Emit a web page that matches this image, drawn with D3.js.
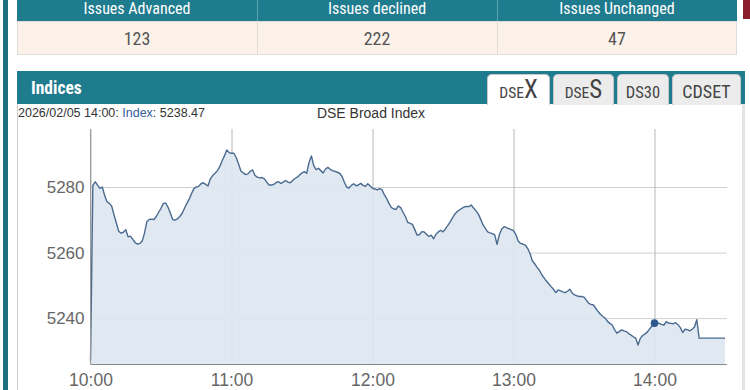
<!DOCTYPE html>
<html><head><meta charset="utf-8">
<script src="https://cdnjs.cloudflare.com/ajax/libs/d3/7.8.5/d3.min.js"></script>
<style>
html,body{margin:0;padding:0;background:#fff;overflow:hidden}
svg{display:block}
</style></head>
<body>
<svg id="c" width="750" height="390"></svg>
<script>
// ---------- data ----------
const breadthHeaders = ["Issues Advanced", "Issues declined", "Issues Unchanged"];
const breadthValues = ["123", "222", "47"];
const tabLabels = [["DSE","X"],["DSE","S"],["DS30",""],["CDSET",""]];
const chartTitle = "DSE Broad Index";
const infoDate = "2026/02/05 14:00";
const infoValue = "5238.47";
const yTicks = [5240, 5260, 5280];
const xTicks = ["10:00", "11:00", "12:00", "13:00", "14:00"];
const markerTime = "14:00";
const markerValue = 5238.47;

const times = [
"10:00","10:01","10:02","10:03","10:04","10:05","10:06","10:07","10:08","10:09",
"10:10","10:11","10:12","10:13","10:14","10:15","10:16","10:17","10:18","10:19",
"10:20","10:21","10:22","10:23","10:24","10:25","10:26","10:27","10:28","10:29",
"10:30","10:31","10:32","10:33","10:34","10:35","10:36","10:37","10:38","10:39",
"10:40","10:41","10:42","10:43","10:44","10:45","10:46","10:47","10:48","10:49",
"10:50","10:51","10:52","10:53","10:54","10:55","10:56","10:57","10:58","10:59",
"11:00","11:01","11:02","11:03","11:04","11:05","11:06","11:07","11:08","11:09",
"11:10","11:11","11:12","11:13","11:14","11:15","11:16","11:17","11:18","11:19",
"11:20","11:21","11:22","11:23","11:24","11:25","11:26","11:27","11:28","11:29",
"11:30","11:31","11:32","11:33","11:34","11:35","11:36","11:37","11:38","11:39",
"11:40","11:41","11:42","11:43","11:44","11:45","11:46","11:47","11:48","11:49",
"11:50","11:51","11:52","11:53","11:54","11:55","11:56","11:57","11:58","11:59",
"12:00","12:01","12:02","12:03","12:04","12:05","12:06","12:07","12:08","12:09",
"12:10","12:11","12:12","12:13","12:14","12:15","12:16","12:17","12:18","12:19",
"12:20","12:21","12:22","12:23","12:24","12:25","12:26","12:27","12:28","12:29",
"12:30","12:31","12:32","12:33","12:34","12:35","12:36","12:37","12:38","12:39",
"12:40","12:41","12:42","12:43","12:44","12:45","12:46","12:47","12:48","12:49",
"12:50","12:51","12:52","12:53","12:54","12:55","12:56","12:57","12:58","12:59",
"13:00","13:01","13:02","13:03","13:04","13:05","13:06","13:07","13:08","13:09",
"13:10","13:11","13:12","13:13","13:14","13:15","13:16","13:17","13:18","13:19",
"13:20","13:21","13:22","13:23","13:24","13:25","13:26","13:27","13:28","13:29",
"13:30","13:31","13:32","13:33","13:34","13:35","13:36","13:37","13:38","13:39",
"13:40","13:41","13:42","13:43","13:44","13:45","13:46","13:47","13:48","13:49",
"13:50","13:51","13:52","13:53","13:54","13:55","13:56","13:57","13:58","13:59",
"14:00","14:01","14:02","14:03","14:04","14:05","14:06","14:07","14:08","14:09",
"14:10","14:11","14:12","14:13","14:14","14:15","14:16","14:17","14:18","14:19",
"14:30"
];
const values = [
5227,5280.5,5281.6,5280.6,5279.6,5280,5277.5,5275.5,5275,5274.2,
5271.5,5269,5266.5,5265.9,5266.2,5267,5264.8,5265,5264,5263,
5262.6,5262.8,5263.5,5266,5269.5,5270.1,5270.2,5270.1,5271,5272.3,
5273.5,5275,5275.1,5273.8,5272,5270.1,5269.9,5270.3,5271,5272,
5273.5,5275,5276.3,5278,5279.5,5280,5280.2,5281,5281.3,5280.8,
5280.3,5282.5,5283.5,5284.2,5285,5286.2,5288,5289.5,5291.3,5290.5,
5290.3,5290.3,5289,5287,5284.9,5284.3,5283.8,5284,5284.8,5285.2,
5283.5,5283,5282.8,5282.9,5282.5,5281.5,5280.6,5280.6,5280.8,5281.4,
5281.6,5281.1,5281.5,5282,5281.5,5281.3,5282,5282.6,5283,5283.7,
5284.3,5284.7,5284.2,5287.5,5289.5,5286.5,5285.3,5285.7,5285,5284.3,
5285.5,5286,5285.4,5285,5284.8,5284.5,5284.2,5283.3,5281.5,5280,
5279.7,5280.5,5281,5280.4,5280.6,5281.1,5280.5,5280.2,5281,5280.3,
5279.6,5279.4,5279.1,5279.5,5279.2,5277.7,5276.5,5275,5273.8,5273.3,
5273.2,5274.2,5273.7,5272.3,5271,5269.2,5268.9,5268.6,5267,5265.3,
5265.5,5266.4,5266.3,5265.6,5264.9,5265.3,5264.2,5265.6,5266.3,5266.8,
5266.3,5267.2,5268.2,5269.3,5270.5,5271.7,5272.5,5273,5273.5,5273.9,
5274.1,5274,5274.5,5273.6,5272.8,5271.8,5270.2,5268.5,5267.4,5266.3,
5266,5265.8,5265.4,5262.5,5265.5,5267.2,5267.9,5267.6,5267.3,5267,
5266.7,5265.5,5263.5,5262.8,5262.6,5262.3,5261.3,5259.8,5257.5,5256.6,
5255.5,5254.6,5253.3,5252.3,5251.3,5250.5,5249.6,5248.8,5247.8,5248.6,
5248.3,5248,5247.8,5248.2,5248.8,5247.6,5247.1,5246.8,5246.6,5246.6,
5246.4,5245.5,5244.5,5244.2,5244,5243,5242,5241.2,5240.5,5240,
5239,5238.4,5237.9,5236.5,5235.4,5235.9,5236.4,5236.1,5235.9,5235.3,
5234.8,5234.3,5233.9,5231.8,5233.9,5234.7,5235.2,5235.8,5236.8,5237.6,
5238.47,5238.7,5238.4,5238.1,5237.9,5238.9,5238.5,5238.4,5238.3,5238.6,
5238,5237.1,5235.6,5236.6,5236.5,5236.1,5236.6,5237.3,5239.5,5233.9,
5233.9
];

// ---------- drawing ----------
const svg = d3.select("#c");
const teal = "#1f7b8e";
const condensed = "'Liberation Sans Narrow','Roboto Condensed','Liberation Sans',Arial,sans-serif";
const sans = "'Liberation Sans',Arial,sans-serif";

// left page bar
svg.append("rect").attr("x",3).attr("y",0).attr("width",5).attr("height",390).attr("fill","#1d6f7f");
// dark red block top right
svg.append("rect").attr("x",743).attr("y",0).attr("width",7).attr("height",19).attr("fill","#8a1c2c");

// breadth table
const colX = d3.scaleBand().domain(breadthHeaders).range([17, 737]);
svg.append("rect").attr("x",17).attr("y",0).attr("width",720).attr("height",21).attr("fill",teal);
svg.append("rect").attr("x",17.5).attr("y",21.5).attr("width",719).attr("height",33).attr("fill","#fdf2ea").attr("stroke","#e2dcd6");
breadthHeaders.forEach((h,i)=>{
  const cx = colX(h) + colX.bandwidth()/2;
  if(i>0){
    svg.append("line").attr("x1",colX(h)+0.5).attr("x2",colX(h)+0.5).attr("y1",0).attr("y2",21).attr("stroke","#5fa3b1");
    svg.append("line").attr("x1",colX(h)+0.5).attr("x2",colX(h)+0.5).attr("y1",21).attr("y2",54).attr("stroke","#e2dcd6");
  }
  svg.append("text").attr("x",cx).attr("y",14).attr("text-anchor","middle")
    .attr("font-family",condensed).attr("font-size",16).attr("fill","#fff").text(h);
  svg.append("text").attr("x",cx).attr("y",45).attr("text-anchor","middle")
    .attr("font-family",condensed).attr("font-size",18).attr("fill","#555").text(breadthValues[i]);
});

// Indices panel
svg.append("rect").attr("x",17).attr("y",71).attr("width",728).attr("height",33).attr("fill",teal);
svg.append("line").attr("x1",17.5).attr("x2",17.5).attr("y1",104).attr("y2",390).attr("stroke","#cfcfcf");
svg.append("rect").attr("x",742).attr("y",104).attr("width",3).attr("height",286).attr("fill","#e3e3e3");
svg.append("text").attr("x",31).attr("y",94).attr("font-family",condensed).attr("font-weight","bold")
  .attr("font-size",17.5).attr("fill","#fff").text("Indices");

// tabs
const tabBoxes = [[487,63],[553,61],[617,52],[672,69]];
tabLabels.forEach((t,i)=>{
  const [tx,tw] = tabBoxes[i];
  const top = 74, bottom = 105, r = 5;
  const active = i===0;
  const p = `M${tx+0.5},${bottom} L${tx+0.5},${top+r} Q${tx+0.5},${top+0.5} ${tx+r},${top+0.5} L${tx+tw-r},${top+0.5} Q${tx+tw-0.5},${top+0.5} ${tx+tw-0.5},${top+r} L${tx+tw-0.5},${bottom}`;
  svg.append("path").attr("d",p).attr("fill",active?"#fff":"#ececec").attr("stroke","#c8c8c8");
  const g = svg.append("text").attr("x",tx+tw/2).attr("y",98).attr("text-anchor","middle")
    .attr("font-family",condensed).attr("fill","#444");
  if(t[1]){
    g.append("tspan").attr("font-size",15.5).text(t[0]);
    g.append("tspan").attr("font-size",25).text(t[1]);
  } else {
    g.append("tspan").attr("font-size",i===3?18:16.5).text(t[0]);
  }
});

// info line and title
const info = svg.append("text").attr("x",18).attr("y",117).attr("font-family",sans).attr("font-size",12.5).attr("fill","#333");
info.append("tspan").text(infoDate + ": ");
info.append("tspan").attr("fill","#2f5d9a").text("Index");
info.append("tspan").text(": " + infoValue);
svg.append("text").attr("x",371).attr("y",118).attr("text-anchor","middle").attr("font-family",sans)
  .attr("font-size",14).attr("fill","#333").text(chartTitle);

// chart
const parse = d3.timeParse("%H:%M");
const data = times.map((t,i)=>({t:parse(t), v:values[i]}));
const x = d3.scaleTime().domain([parse("10:00"), parse("14:30")]).range([90.5, 725]);
const y = d3.scaleLinear().domain([5226, 5297.7]).range([364, 129]);
const plotRight = 727;

// horizontal grid
const yAxis = d3.axisLeft(y).tickValues(yTicks).tickSize(-(plotRight-90.5)).tickFormat(d3.format("d")).tickPadding(6);
const gy = svg.append("g").attr("transform","translate(90.5,0)").call(yAxis);
gy.select(".domain").remove();
gy.selectAll(".tick line").attr("stroke","#d0d0d0");
gy.selectAll(".tick text").attr("font-family",sans).attr("font-size",17).attr("fill","#666");

// vertical grid + x labels
const xAxis = d3.axisBottom(x).tickValues(xTicks.map(parse)).tickFormat(d3.timeFormat("%H:%M")).tickSize(-(364-129)).tickPadding(10);
const gx = svg.append("g").attr("transform","translate(0,364)").call(xAxis);
gx.select(".domain").remove();
gx.selectAll(".tick line").attr("stroke","#b8b8b8");
gx.selectAll(".tick text").attr("font-family",sans).attr("font-size",17.5).attr("fill","#666");

// area + line
const area = d3.area().x(d=>x(d.t)).y0(y(5226)).y1(d=>y(d.v));
const line = d3.line().x(d=>x(d.t)).y(d=>y(d.v));
svg.append("path").datum(data).attr("d",area).attr("fill","#dde5ef").attr("fill-opacity",0.9);
svg.append("path").datum(data).attr("d",line).attr("fill","none").attr("stroke","#4a6b8f").attr("stroke-width",1.4).attr("stroke-linejoin","round");

// axis lines
svg.append("line").attr("x1",90.5).attr("x2",plotRight).attr("y1",364.5).attr("y2",364.5).attr("stroke","#888");
svg.append("line").attr("x1",90.5).attr("x2",90.5).attr("y1",129).attr("y2",364.5).attr("stroke","#999");

// marker
svg.append("circle").attr("cx",x(parse(markerTime))).attr("cy",y(markerValue)).attr("r",3.8).attr("fill","#2c5a8c");
</script>
</body></html>
